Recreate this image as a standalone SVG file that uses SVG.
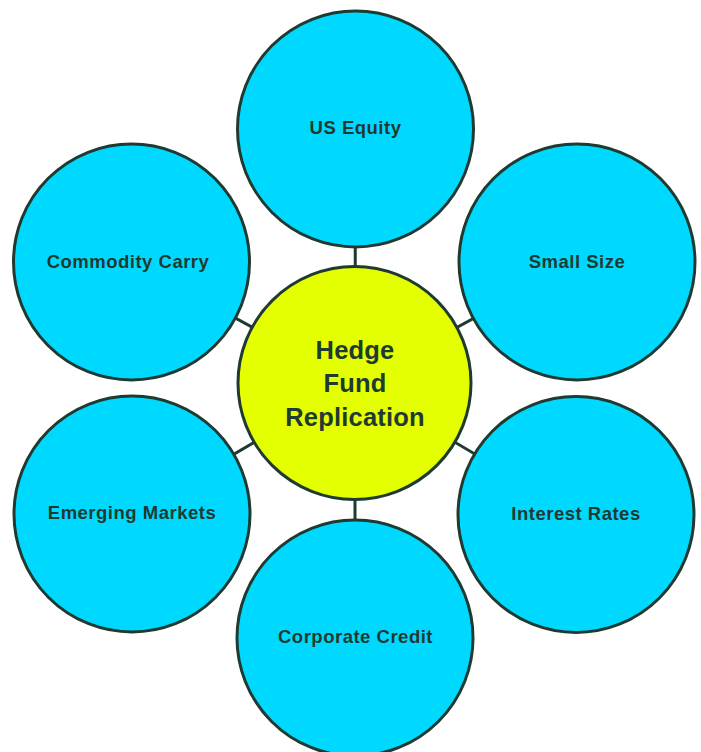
<svg xmlns="http://www.w3.org/2000/svg" width="701" height="752" viewBox="0 0 701 752">
  <style>
    .link { stroke: #1f3a30; stroke-width: 3; fill: none; }
    .outer { fill: #00d9ff; stroke: #1f3a30; stroke-width: 3; }
    .hub { fill: #e4ff00; stroke: #1f3a30; stroke-width: 3; }
    .label { font-family: "Liberation Sans", Arial, sans-serif; font-weight: bold; font-size: 18.5px; letter-spacing: 0.5px; fill: #1f3a30; text-anchor: middle; }
    .hub-label { font-family: "Liberation Sans", Arial, sans-serif; font-weight: bold; font-size: 25.5px; letter-spacing: 0.2px; fill: #1f3a30; text-anchor: middle; }
  </style>
  <rect width="701" height="752" fill="#ffffff"/>

  <!-- spokes from the hub to each factor -->
  <g id="connectors">
    <line class="link" x1="355" y1="383" x2="355.5" y2="129"/>
    <line class="link" x1="355" y1="383" x2="577" y2="262"/>
    <line class="link" x1="355" y1="383" x2="576" y2="514"/>
    <line class="link" x1="355" y1="383" x2="355" y2="638"/>
    <line class="link" x1="355" y1="383" x2="132" y2="514"/>
    <line class="link" x1="355" y1="383" x2="132" y2="262"/>
  </g>

  <g id="us-equity">
    <circle class="outer" cx="355.5" cy="129" r="118"/>
    <text class="label" x="355.5" y="133.5">US Equity</text>
  </g>
  <g id="small-size">
    <circle class="outer" cx="577" cy="262" r="118"/>
    <text class="label" x="577" y="268">Small Size</text>
  </g>
  <g id="interest-rates">
    <circle class="outer" cx="576" cy="514.5" r="118"/>
    <text class="label" x="576" y="520">Interest Rates</text>
  </g>
  <g id="corporate-credit">
    <circle class="outer" cx="355" cy="638" r="118"/>
    <text class="label" x="355.5" y="643">Corporate Credit</text>
  </g>
  <g id="emerging-markets">
    <circle class="outer" cx="132" cy="514" r="118"/>
    <text class="label" x="132" y="519">Emerging Markets</text>
  </g>
  <g id="commodity-carry">
    <circle class="outer" cx="131.5" cy="262" r="118"/>
    <text class="label" x="128" y="268">Commodity Carry</text>
  </g>

  <g id="hedge-fund-replication">
    <circle class="hub" cx="354.5" cy="383" r="116.5"/>
    <text class="hub-label" x="355" y="358.5">Hedge</text>
    <text class="hub-label" x="355" y="392">Fund</text>
    <text class="hub-label" x="355" y="425.5">Replication</text>
  </g>
</svg>
